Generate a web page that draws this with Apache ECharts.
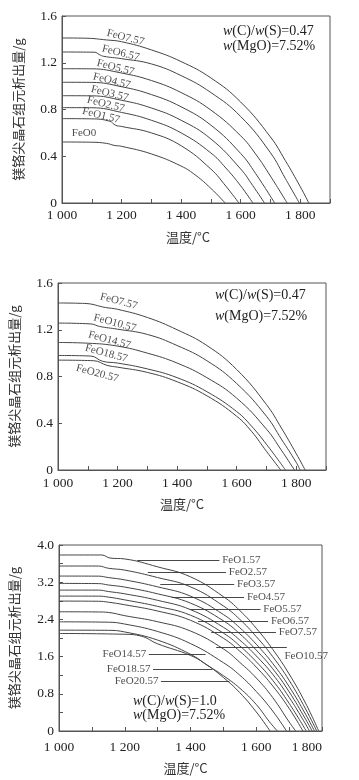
<!DOCTYPE html>
<html><head><meta charset="utf-8">
<script src="https://cdn.jsdelivr.net/npm/echarts/dist/echarts.min.js"></script>
<style>html,body{margin:0;padding:0;background:#fff}#c{width:359px;height:780px}</style>
</head><body><div id="c"></div><script>
// ---------- DATA: top chart (w(C)/w(S)=0.47) ----------
const top_FeO7_57 = [[1000,1.412],[1080,1.41],[1150,1.395],[1200,1.38],[1300,1.31],[1400,1.21],[1500,1.07],[1600,0.864],[1700,0.565],[1750,0.363],[1800,0.14],[1829,0]];
const top_FeO6_57 = [[1000,1.292],[1110,1.29],[1125,1.27],[1140,1.255],[1200,1.235],[1300,1.19],[1400,1.09],[1500,0.945],[1600,0.74],[1700,0.43],[1750,0.21],[1797,0]];
const top_FeO5_57 = [[1000,1.149],[1100,1.148],[1200,1.112],[1300,1.048],[1400,0.945],[1500,0.795],[1600,0.575],[1650,0.42],[1700,0.23],[1756,0]];
const top_FeO4_57 = [[1000,1.033],[1100,1.032],[1200,0.995],[1300,0.928],[1400,0.823],[1500,0.666],[1600,0.424],[1650,0.253],[1714,0]];
const top_FeO3_57 = [[1000,0.918],[1100,0.917],[1200,0.879],[1300,0.813],[1400,0.708],[1500,0.548],[1600,0.291],[1640,0.151],[1680,0]];
const top_FeO2_57 = [[1000,0.816],[1100,0.815],[1200,0.775],[1300,0.708],[1400,0.60],[1500,0.428],[1550,0.30],[1600,0.147],[1641,0]];
const top_FeO1_57 = [[1000,0.722],[1100,0.72],[1160,0.70],[1180,0.665],[1200,0.655],[1300,0.60],[1400,0.49],[1500,0.29],[1550,0.145],[1594,0]];
const top_FeO0    = [[1000,0.522],[1100,0.52],[1150,0.51],[1175,0.493],[1200,0.485],[1300,0.42],[1400,0.316],[1450,0.235],[1500,0.125],[1548,0]];
const topNames = ['FeO7.57','FeO6.57','FeO5.57','FeO4.57','FeO3.57','FeO2.57','FeO1.57','FeO0'];
const topSeries = [top_FeO7_57,top_FeO6_57,top_FeO5_57,top_FeO4_57,top_FeO3_57,top_FeO2_57,top_FeO1_57,top_FeO0];

// ---------- DATA: middle chart ----------
const mid_FeO7_57  = [[1000,1.429],[1090,1.425],[1160,1.39],[1200,1.375],[1300,1.305],[1400,1.20],[1500,1.065],[1600,0.86],[1700,0.56],[1750,0.36],[1800,0.14],[1830,0]];
const mid_FeO10_57 = [[1000,1.257],[1110,1.25],[1140,1.228],[1200,1.205],[1300,1.16],[1400,1.065],[1500,0.935],[1600,0.74],[1700,0.46],[1750,0.265],[1800,0.065],[1813,0]];
const mid_FeO14_57 = [[1000,1.091],[1100,1.085],[1200,1.06],[1300,1.0],[1400,0.915],[1500,0.79],[1600,0.615],[1700,0.35],[1750,0.17],[1794,0]];
const mid_FeO18_57 = [[1000,0.98],[1110,0.975],[1150,0.93],[1200,0.915],[1300,0.865],[1400,0.79],[1500,0.67],[1600,0.50],[1650,0.375],[1700,0.22],[1764,0]];
const mid_FeO20_57 = [[1000,0.94],[1120,0.935],[1165,0.895],[1200,0.88],[1300,0.835],[1400,0.755],[1500,0.635],[1600,0.46],[1650,0.33],[1700,0.16],[1748,0]];
const midNames = ['FeO7.57','FeO10.57','FeO14.57','FeO18.57','FeO20.57'];
const midSeries = [mid_FeO7_57,mid_FeO10_57,mid_FeO14_57,mid_FeO18_57,mid_FeO20_57];

// ---------- DATA: bottom chart (w(C)/w(S)=1.0) ----------
const bot_FeO1_57  = [[1000,3.785],[1130,3.785],[1155,3.72],[1200,3.70],[1300,3.53],[1400,3.315],[1500,2.89],[1550,2.59],[1600,2.21],[1650,1.756],[1700,1.226],[1750,0.598],[1790,0]];
const bot_FeO2_57  = [[1000,3.548],[1120,3.548],[1150,3.50],[1200,3.46],[1300,3.30],[1400,3.10],[1500,2.69],[1550,2.40],[1600,2.03],[1650,1.60],[1700,1.09],[1750,0.475],[1784,0]];
const bot_FeO3_57  = [[1000,3.332],[1120,3.33],[1150,3.30],[1200,3.25],[1300,3.10],[1400,2.90],[1500,2.505],[1550,2.22],[1600,1.866],[1650,1.453],[1700,0.956],[1750,0.36],[1777,0]];
const bot_FeO4_57  = [[1000,3.174],[1120,3.17],[1150,3.14],[1200,3.095],[1300,2.95],[1400,2.75],[1500,2.37],[1550,2.09],[1600,1.74],[1650,1.34],[1700,0.844],[1750,0.254],[1770,0]];
const bot_FeO5_57  = [[1000,3.03],[1120,3.03],[1150,3.0],[1200,2.95],[1300,2.81],[1400,2.61],[1500,2.23],[1550,1.955],[1600,1.615],[1650,1.22],[1700,0.725],[1740,0.27],[1762,0]];
const bot_FeO6_57  = [[1000,2.901],[1120,2.90],[1150,2.88],[1200,2.82],[1300,2.68],[1400,2.49],[1500,2.105],[1550,1.83],[1600,1.49],[1650,1.09],[1700,0.595],[1752,0]];
const bot_FeO7_57  = [[1000,2.794],[1120,2.79],[1150,2.77],[1200,2.715],[1300,2.58],[1400,2.38],[1500,1.995],[1550,1.715],[1600,1.375],[1650,0.97],[1700,0.486],[1742,0]];
const bot_FeO10_57 = [[1000,2.564],[1120,2.56],[1150,2.55],[1200,2.48],[1300,2.35],[1400,2.15],[1500,1.765],[1550,1.475],[1600,1.14],[1650,0.72],[1700,0.195],[1720,0]];
const bot_FeO14_57 = [[1000,2.348],[1150,2.34],[1200,2.30],[1300,2.14],[1400,1.88],[1500,1.47],[1550,1.20],[1600,0.85],[1650,0.43],[1692,0]];
const bot_FeO18_57 = [[1000,2.169],[1150,2.165],[1200,2.13],[1300,1.955],[1400,1.65],[1450,1.42],[1500,1.19],[1550,0.92],[1600,0.57],[1640,0.2],[1664,0]];
const bot_FeO20_57 = [[1000,2.097],[1200,2.08],[1250,2.04],[1300,1.875],[1400,1.625],[1450,1.42],[1500,1.15],[1550,0.824],[1600,0.41],[1642,0]];
const botNames = ['FeO1.57','FeO2.57','FeO3.57','FeO4.57','FeO5.57','FeO6.57','FeO7.57','FeO10.57','FeO14.57','FeO18.57','FeO20.57'];
const botSeries = [bot_FeO1_57,bot_FeO2_57,bot_FeO3_57,bot_FeO4_57,bot_FeO5_57,bot_FeO6_57,bot_FeO7_57,bot_FeO10_57,bot_FeO14_57,bot_FeO18_57,bot_FeO20_57];

// tick labels
const xTickLabels = ['1 000','1 200','1 400','1 600','1 800'];
const yTickLabelsA = ['0','0.4','0.8','1.2','1.6'];
const yTickLabelsB = ['0','0.8','1.6','2.4','3.2','4.0'];

// ---------- annotation anchors (data space) ----------
const topLabelAnchors = [[1213,1.415],[1197,1.283],[1180,1.158],[1167,1.044],[1160,0.936],[1147,0.844],[1131,0.748],[1074,0.596]];
const midLabelAnchors = [[1204,1.443],[1191,1.257],[1173,1.111],[1162,0.997],[1132,0.826]];
// leader lines [x1, x2, y] and label anchor
const botLeaders = [[1238,1488,3.677],[1270,1508,3.41],[1308,1533,3.16],[1343,1563,2.87],[1398,1613,2.614],[1423,1636,2.363],[1463,1660,2.133],[1478,1693,1.795],[1273,1446,1.645],[1286,1466,1.329],[1310,1518,1.077]];
const botLabelAnchors = [[1492,3.677,'right'],[1512,3.41,'right'],[1537,3.16,'right'],[1567,2.87,'right'],[1617,2.614,'right'],[1640,2.363,'right'],[1664,2.133,'right'],[1681,1.616,'right'],[1270,1.645,'left'],[1283,1.329,'left'],[1307,1.077,'left']];

const SERIF = '"Liberation Serif","Times New Roman",serif';
const CJK = '"Noto Sans CJK SC",sans-serif';
const LINE = '#444', TXT = '#222', AX = '#555';

const grids = [
  {left:62, top:16, width:268, height:187},
  {left:57, top:283, width:269, height:187},
  {left:54, top:545, width:268, height:186}
];

function fmtX(v){ return (v % 200 === 0) ? xTickLabels[(v-1000)/200] || '' : ''; }
function xAxis(gi, max, margin, namePad){
  const lab = {formatter:fmtX, margin:margin, fontFamily:SERIF, fontSize:13.5, color:TXT, showMaxLabel:true};
  if (gi === 2) lab.alignMaxLabel = 'right';
  return {type:'value', gridIndex:gi, min:1000, max:max, interval:100,
    name:'温度/°C', nameLocation:'middle', nameGap: gi===2?31:28,
    nameTextStyle:{fontFamily:CJK, fontSize:13, color:'#333', padding:[0,namePad,0,0]},
    axisLine:{show:true, lineStyle:{color:AX, width:1}},
    axisTick:{show:true, inside:true, length:4, lineStyle:{color:AX}},
    axisLabel:lab,
    splitLine:{show:false}};
}
function yAxis(gi, max, interval, labels, step){
  return {type:'value', gridIndex:gi, min:0, max:max, interval:interval,
    name:'镁铬尖晶石组元析出量/g', nameLocation:'middle', nameGap: gi===2?38:37, nameRotate:90,
    nameTextStyle:{fontFamily:CJK, fontSize:13, color:'#333'},
    axisLine:{show:true, lineStyle:{color:AX, width:1}},
    axisTick:{show:true, inside:true, length:4, lineStyle:{color:AX}},
    axisLabel:{margin:5, fontFamily:SERIF, fontSize:13.5, color:TXT,
      formatter:(v)=>{ const k=Math.round(v/interval); return (k % step === 0) ? (labels[k/step] || '') : ''; }},
    splitLine:{show:false}};
}
function lineSeries(name, data, gi){
  return {type:'line', name:name, data:data, xAxisIndex:gi, yAxisIndex:gi, symbol:'none', showSymbol:false,
    smooth:0.45, lineStyle:{color:LINE, width:1}, silent:true, z:2};
}

const series = [];
topSeries.forEach((d,i)=>series.push(lineSeries(topNames[i], d, 0)));
midSeries.forEach((d,i)=>series.push(lineSeries(midNames[i], d, 1)));
botSeries.forEach((d,i)=>series.push(lineSeries(botNames[i], d, 2)));

// curve name labels, top & middle (rotated along the curves)
series.push({type:'scatter', xAxisIndex:0, yAxisIndex:0, symbolSize:1, itemStyle:{color:'rgba(0,0,0,0)'}, silent:true, z:5,
  data: topLabelAnchors.map((a,i)=>({value:[a[0],a[1]], name:topNames[i], label:{rotate: topNames[i]==='FeO0'?0:-14}})),
  label:{show:true, position:'inside', formatter:(p)=>p.name, fontFamily:SERIF, fontSize:11, color:TXT}});
series.push({type:'scatter', xAxisIndex:1, yAxisIndex:1, symbolSize:1, itemStyle:{color:'rgba(0,0,0,0)'}, silent:true, z:5,
  data: midLabelAnchors.map((a,i)=>({value:[a[0],a[1]], name:midNames[i], label:{rotate:-15}})),
  label:{show:true, position:'inside', formatter:(p)=>p.name, fontFamily:SERIF, fontSize:11, color:TXT}});
// bottom: leader lines + labels
series.push({type:'scatter', xAxisIndex:2, yAxisIndex:2, symbolSize:1, itemStyle:{color:'rgba(0,0,0,0)'}, silent:true, z:5,
  data: botLabelAnchors.map((a,i)=>({value:[a[0],a[1]], name:botNames[i], label:{position:a[2]}})),
  label:{show:true, distance:1, formatter:(p)=>p.name, fontFamily:SERIF, fontSize:11, color:TXT},
  markLine:{silent:true, symbol:['none','none'], animation:false, label:{show:false},
    lineStyle:{color:'#333', width:0.9, type:'solid'},
    data: botLeaders.map(l=>[{coord:[l[0],l[2]]},{coord:[l[1],l[2]]}])}});

const rich = {i:{fontStyle:'italic', fontFamily:SERIF, fontSize:14, fill:TXT, color:TXT}};
function note(x, y, t){
  return {type:'text', left:x, top:y, z:10, silent:true,
    style:{text:t, font:'14px '+SERIF, fill:TXT, rich:rich}};
}

const option = {
  animation:false,
  backgroundColor:'#fff',
  grid: grids.map(g=>Object.assign({show:true, borderColor:AX, borderWidth:1, backgroundColor:'transparent'}, g)),
  xAxis:[xAxis(0,1900,5,16), xAxis(1,1900,6,20), xAxis(2,1800,9,10)],
  yAxis:[yAxis(0,1.6,0.4,yTickLabelsA,1), yAxis(1,1.6,0.4,yTickLabelsA,1), yAxis(2,4.0,0.4,yTickLabelsB,2)],
  series: series,
  graphic:[
    note(223, 24, '{i|w}(C)/{i|w}(S)=0.47'),
    note(223, 39, '{i|w}(MgO)=7.52%'),
    note(215, 288, '{i|w}(C)/{i|w}(S)=0.47'),
    note(215, 309, '{i|w}(MgO)=7.52%'),
    note(133, 694, '{i|w}(C)/{i|w}(S)=1.0'),
    note(133, 708, '{i|w}(MgO)=7.52%')
  ]
};
const chart = echarts.init(document.getElementById('c'), null, {renderer:'canvas'});
chart.setOption(option);
</script></body></html>
